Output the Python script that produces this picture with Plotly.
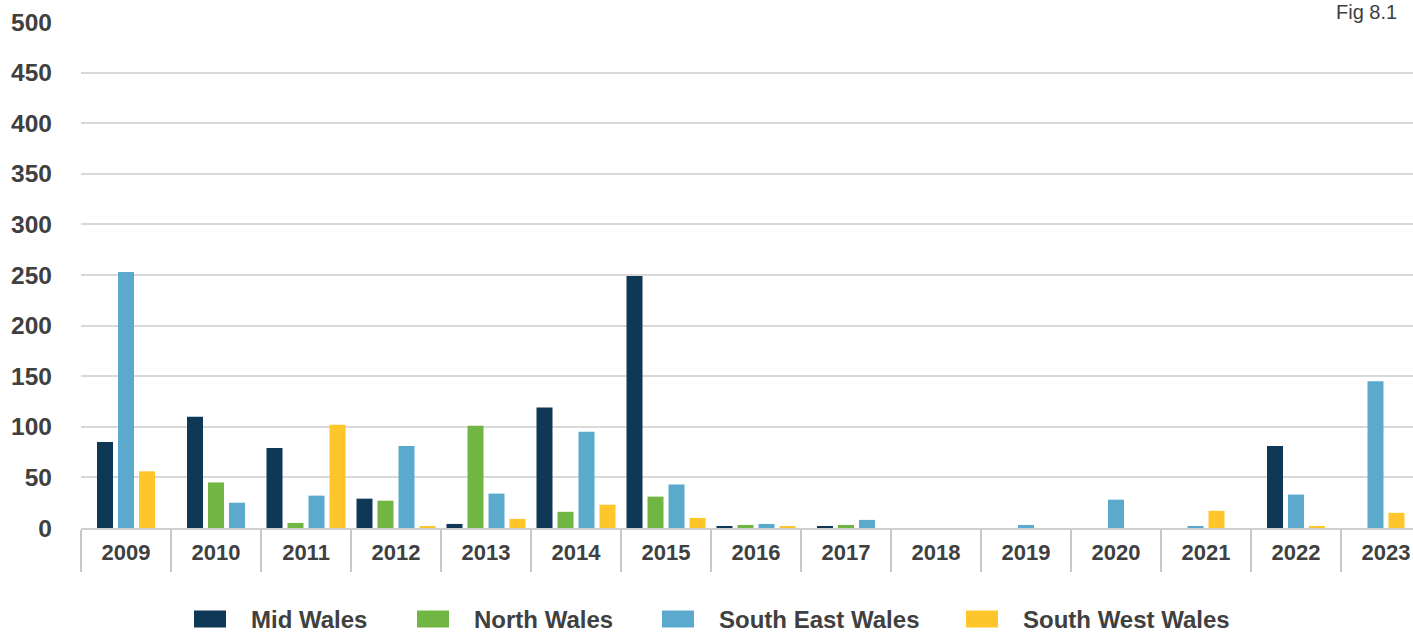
import plotly.graph_objects as go

# Annual figures by region (blank where a region has no figure for the year)
years = ["2009", "2010", "2011", "2012", "2013", "2014", "2015", "2016",
         "2017", "2018", "2019", "2020", "2021", "2022", "2023"]

mid_wales = [85, 110, 79, 29, 4, 119, 249, 1, 1, None, None, None, None, 81, None]
north_wales = [None, 45, 5, 27, 101, 16, 31, 3, 3, None, None, None, None, None, None]
south_east_wales = [253, 25, 32, 81, 34, 95, 43, 4, 8, None, 3, 28, 2, 33, 145]
south_west_wales = [56, None, 102, 1, 9, 23, 10, 2, None, None, None, None, 17, 1, 15]

series_names = ["Mid Wales", "North Wales", "South East Wales", "South West Wales"]
series_values = [mid_wales, north_wales, south_east_wales, south_west_wales]
series_colors = ["#0F3756", "#71B543", "#5BAACD", "#FEC62A"]

y_ticks = [0, 50, 100, 150, 200, 250, 300, 350, 400, 450, 500]

# Figure geometry (pixels)
W, H = 1413, 633
M_L, M_R, M_T, M_B = 81, 0, 22, 105
CAT_PX = 90.0
plot_w = W - M_L - M_R
plot_h = H - M_T - M_B

TEXT = "#404040"
FONT = "Liberation Sans"

# Bars present in a year are packed and centred in that year's slot
BAR_W = 16 / CAT_PX
PITCH = 21 / CAT_PX

offsets = [[None] * len(years) for _ in series_values]
for j in range(len(years)):
    present = [i for i, vals in enumerate(series_values) if vals[j] is not None]
    span = len(present) * PITCH - (PITCH - BAR_W)
    for k, i in enumerate(present):
        offsets[i][j] = -span / 2 + k * PITCH

fig = go.Figure()
for name, vals, color, offs in zip(series_names, series_values, series_colors, offsets):
    fig.add_trace(go.Bar(
        x=years,
        y=vals,
        name=name,
        marker=dict(color=color, line=dict(width=0)),
        width=[BAR_W] * len(years),
        offset=[o if o is not None else 0 for o in offs],
        showlegend=False,
        hoverinfo="x+y+name",
    ))


def px_x(p):
    return (p - M_L) / plot_w


def px_y(p):
    return (H - M_B - p) / plot_h


# Legend: coloured key blocks followed by the region names
legend_starts = [194, 417, 662, 966]
key_w, key_h, key_gap = 32, 17, 25
legend_cy = 619
shapes = []
annotations = []
for name, color, x0 in zip(series_names, series_colors, legend_starts):
    shapes.append(dict(
        type="rect", xref="paper", yref="paper",
        x0=px_x(x0), x1=px_x(x0 + key_w),
        y0=px_y(legend_cy + key_h / 2), y1=px_y(legend_cy - key_h / 2),
        fillcolor=color, line=dict(width=0),
    ))
    annotations.append(dict(
        xref="paper", yref="paper",
        x=px_x(x0 + key_w + key_gap - 1), y=px_y(legend_cy),
        xanchor="left", yanchor="middle", align="left",
        borderpad=0,
        text=name, showarrow=False,
        font=dict(family=FONT, size=24, color=TEXT, weight="bold"),
    ))

# Figure number in the top-right corner
annotations.append(dict(
    xref="paper", yref="paper", x=1, y=1,
    xanchor="right", yanchor="bottom", xshift=-15, yshift=-2,
    borderpad=0,
    text="Fig 8.1", showarrow=False,
    font=dict(family=FONT, size=20, color=TEXT),
))

fig.update_layout(
    width=W, height=H,
    margin=dict(l=M_L, r=M_R, t=M_T, b=M_B, pad=0),
    paper_bgcolor="white", plot_bgcolor="white",
    barmode="overlay",
    showlegend=False,
    shapes=shapes,
    annotations=annotations,
    xaxis=dict(
        type="category",
        range=[-0.5, -0.5 + plot_w / CAT_PX],
        tickson="boundaries",
        ticks="outside", ticklen=42, tickwidth=2, tickcolor="#c8c8c8",
        ticklabelstandoff=4,
        showline=True, linecolor="#d0d0d0", linewidth=2,
        showgrid=False, zeroline=False,
        tickfont=dict(family=FONT, size=22, color=TEXT, weight="bold"),
        fixedrange=True,
    ),
    yaxis=dict(
        range=[0, 500],
        tickvals=y_ticks,
        ticktext=[str(v) for v in y_ticks],
        showgrid=True, gridcolor="#d9d9d9", gridwidth=2,
        zeroline=False, showline=False,
        ticks="", ticklabelstandoff=28,
        tickfont=dict(family=FONT, size=24.5, color=TEXT, weight="bold"),
        fixedrange=True,
    ),
)

fig.write_html("out.html")
